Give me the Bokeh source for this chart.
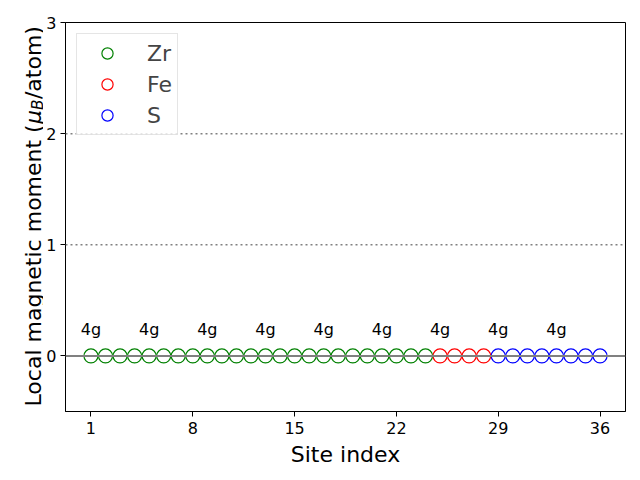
from bokeh.plotting import figure
from bokeh.models import Range1d, FixedTicker, Span
from bokeh.layouts import row
from bokeh.core.properties import value
from bokeh.embed import file_html
from bokeh.resources import INLINE
import math

# Data
zr_sites = [1, 2, 3, 4, 5, 6, 7, 8, 9, 10, 11, 12, 13, 14, 15, 16, 17, 18, 19, 20, 21, 22, 23, 24]
zr_moments = [0.0, 0.0, 0.0, 0.0, 0.0, 0.0, 0.0, 0.0, 0.0, 0.0, 0.0, 0.0,
              0.0, 0.0, 0.0, 0.0, 0.0, 0.0, 0.0, 0.0, 0.0, 0.0, 0.0, 0.0]
fe_sites = [25, 26, 27, 28]
fe_moments = [0.0, 0.0, 0.0, 0.0]
s_sites = [29, 30, 31, 32, 33, 34, 35, 36]
s_moments = [0.0, 0.0, 0.0, 0.0, 0.0, 0.0, 0.0, 0.0]
wyckoff_sites = [1, 5, 9, 13, 17, 21, 25, 29, 33]
wyckoff_labels = ["4g", "4g", "4g", "4g", "4g", "4g", "4g", "4g", "4g"]
wyckoff_y = [0.15, 0.15, 0.15, 0.15, 0.15, 0.15, 0.15, 0.15, 0.15]
x_ticks = [1, 8, 15, 22, 29, 36]
y_ticks = [0, 1, 2, 3]
ref_levels = [1, 2]

FONT = "DejaVu Sans"
LABEL_W = 43
TOP, FH, BOT = 22, 389, 69

# ---- left strip holding the y-axis title (mu with subscript B) ----
lab = figure(title=None, frame_width=LABEL_W, frame_height=FH,
             min_border_left=0, min_border_right=0,
             min_border_top=TOP, min_border_bottom=BOT,
             x_range=Range1d(0, LABEL_W), y_range=Range1d(TOP + FH, TOP),
             x_axis_type=None, y_axis_type=None,
             output_backend="svg", toolbar_location=None)
lab.grid.visible = False
lab.outline_line_color = None

base_x = 33.0     # baseline position (px from left)
start_y = 406.0   # text start (px from top)
pieces = [
    ("Local magnetic moment (", "normal", "22px", 0.0, 0.0),
    ("\u03bc", "italic", "22px", 282.6, 0.0),
    ("B", "italic", "15.4px", 296.6, 4.0),
    ("/atom)", "normal", "22px", 307.4, 0.0),
]
for txt, style, fs, off, drop in pieces:
    lab.text(x=[base_x + drop], y=[start_y - off], text=[txt],
             angle=math.pi / 2, text_align="left", text_baseline="alphabetic",
             text_font=value(FONT), text_font_size=fs,
             text_font_style=style, text_color="black")

# ---- main plot ----
p = figure(frame_width=560, frame_height=FH,
           min_border_left=65 - LABEL_W, min_border_right=15,
           min_border_top=TOP, min_border_bottom=BOT,
           x_range=Range1d(-0.75, 37.75), y_range=Range1d(-0.5, 3),
           output_backend="svg", toolbar_location=None)

p.grid.visible = False
p.outline_line_color = "black"
p.outline_line_width = 1
p.outline_line_alpha = 1.0

for ax in (p.xaxis[0], p.yaxis[0]):
    ax.major_tick_out = 5
    ax.major_tick_in = 0
    ax.minor_tick_out = 0
    ax.minor_tick_in = 0
    ax.axis_line_color = "black"
    ax.major_tick_line_color = "black"
    ax.major_label_text_font = FONT
    ax.major_label_text_font_size = "16px"
    ax.major_label_text_color = "black"
    ax.axis_label_text_font = FONT
    ax.axis_label_text_font_size = "22px"
    ax.axis_label_text_font_style = "normal"
    ax.axis_label_text_color = "black"

p.yaxis.major_label_standoff = 4
p.yaxis.axis_label_standoff = 0
p.xaxis.ticker = FixedTicker(ticks=x_ticks)
p.yaxis.ticker = FixedTicker(ticks=y_ticks)
p.xaxis.axis_label = "Site index"

for lvl in ref_levels:
    p.add_layout(Span(location=lvl, dimension="width", line_color="gray",
                      line_width=1.5, line_dash="2 3"))
p.add_layout(Span(location=0, dimension="width", line_color="gray", line_width=2))

p.scatter(zr_sites, zr_moments, marker="circle", size=14, fill_color="white",
          line_color="green", line_width=1.2, legend_label="Zr")
p.scatter(fe_sites, fe_moments, marker="circle", size=14, fill_color="white",
          line_color="red", line_width=1.2, legend_label="Fe")
p.scatter(s_sites, s_moments, marker="circle", size=14, fill_color="white",
          line_color="blue", line_width=1.2, legend_label="S")

p.text(x=wyckoff_sites, y=wyckoff_y, text=wyckoff_labels, text_align="center",
       text_baseline="bottom", text_font=value(FONT), text_font_size="16px",
       text_color="black")

lg = p.legend[0]
lg.location = "top_left"
lg.margin = 11
lg.padding = 5
lg.glyph_width = 50
lg.glyph_height = 28
lg.label_standoff = 15
lg.spacing = 3
lg.label_text_font = FONT
lg.label_text_font_size = "22px"
lg.border_line_color = "#cccccc"
lg.border_line_width = 1
lg.background_fill_alpha = 0.8

layout = row(lab, p, spacing=0)
open("out.html", "w").write(file_html(layout, INLINE))
